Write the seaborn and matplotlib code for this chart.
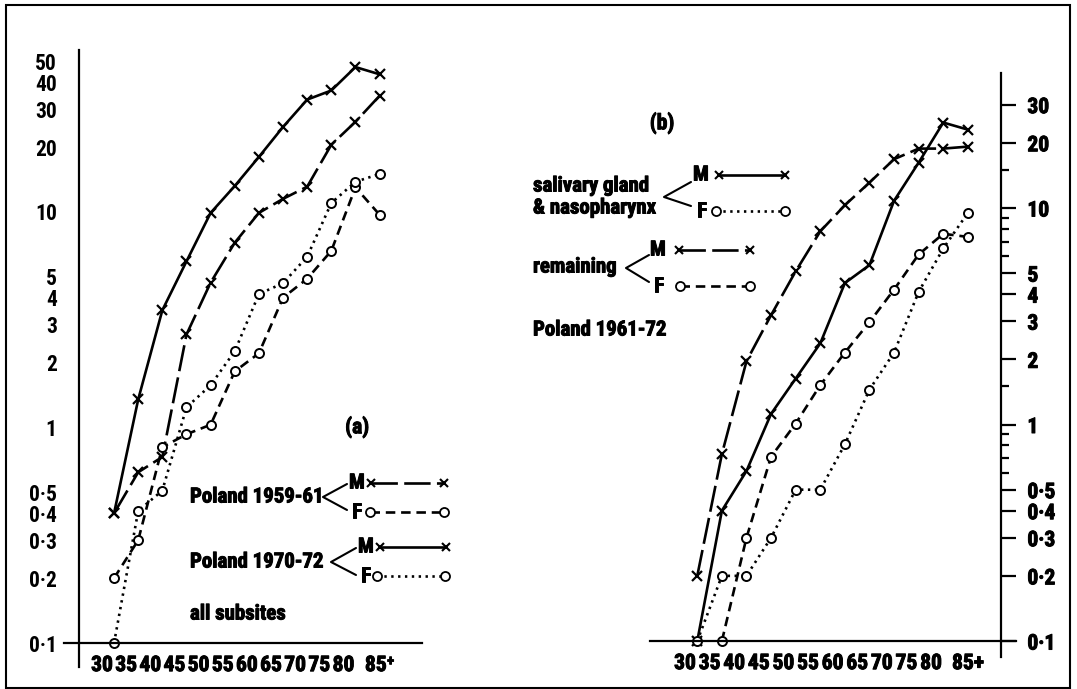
import matplotlib

matplotlib.use("Agg")
import matplotlib.patheffects as pe
import matplotlib.pyplot as plt
import numpy as np
import pandas as pd
import seaborn as sns
from matplotlib import font_manager
from matplotlib.lines import Line2D
from matplotlib.patches import Rectangle
from matplotlib.ticker import NullFormatter

# age groups 30-34 ... 80-84, 85+ (plotted at group mid-points)
age_mid = [32.5, 37.5, 42.5, 47.5, 52.5, 57.5, 62.5, 67.5, 72.5, 77.5, 82.5, 87.5]
age_ticks = [30, 35, 40, 45, 50, 55, 60, 65, 70, 75, 80, 87.5]
age_labels_a = ["30", "35", "40", "45", "50", "55", "60", "65", "70", "75", "80", "85\u207a"]
age_labels_b = ["30", "35", "40", "45", "50", "55", "60", "65", "70", "75", "80", "85+"]

# (a) all subsites
m_1959 = [0.4, 0.62, 0.73, 2.7, 4.7, 7.2, 9.9, 11.5, 13.1, 20.5, 26.2, 34.6]
f_1959 = [0.2, 0.30, 0.81, 0.93, 1.03, 1.82, 2.21, 4.0, 4.9, 6.6, 13.0, 9.7]
m_1970 = [0.4, 1.35, 3.5, 5.9, 9.9, 13.2, 18.0, 24.8, 33.2, 36.6, 47.0, 43.5]
f_1970 = [0.1, 0.41, 0.51, 1.24, 1.57, 2.26, 4.16, 4.67, 6.2, 11.0, 13.8, 15.0]

# (b) Poland 1961-72
sal_m = [0.1, 0.40, 0.61, 1.12, 1.63, 2.37, 4.5, 5.45, 10.8, 16.2, 24.8, 23.0]
sal_f = [0.1, 0.2, 0.2, 0.30, 0.50, 0.50, 0.81, 1.45, 2.15, 4.1, 6.5, 9.5]
rem_m = [0.2, 0.73, 1.96, 3.2, 5.1, 7.8, 10.3, 13.1, 16.8, 18.8, 18.8, 19.2]
rem_f = [np.nan, 0.1, 0.3, 0.71, 1.01, 1.52, 2.15, 2.97, 4.2, 6.1, 7.6, 7.35]

major_a = [0.1, 0.2, 0.3, 0.4, 0.5, 1, 2, 3, 4, 5, 10, 20, 30, 40, 50]
major_b = [0.1, 0.2, 0.3, 0.4, 0.5, 1, 2, 3, 4, 5, 10, 20, 30]
minor_y = [0.6, 0.7, 0.8, 0.9, 1.5, 6, 7, 8, 9, 15]


def ylab(v):
    return f"{v:g}".replace(".", "\u00b7")


# pick a narrow bold sans if one is installed, like the original lettering
fonts = font_manager.fontManager.ttflist
names = {f.name for f in fonts}
STRETCH = "normal"
SCALE = 1.0
for cand in ["Liberation Sans Narrow", "Roboto Condensed", "Open Sans Condensed", "Noto Sans Condensed"]:
    if cand in names:
        FAMILY = cand
        break
else:
    FAMILY = "DejaVu Sans"
    if any(f.name == "DejaVu Sans" and f.stretch == "condensed" for f in fonts):
        STRETCH = "condensed"
        SCALE = 0.85
    else:
        SCALE = 0.74

sns.set_style("white")
plt.rcParams["font.family"] = [FAMILY, "DejaVu Sans"]
plt.rcParams["font.stretch"] = STRETCH
plt.rcParams["font.weight"] = "bold"
for key_ in ["text.color", "axes.labelcolor", "xtick.color", "ytick.color"]:
    plt.rcParams[key_] = "black"

W, H = 1077, 689
fig = plt.figure(figsize=(W / 100, H / 100), dpi=100)


def fx(x):
    return x / W


def fy(y):
    return 1 - y / H


LONG = (0, (10, 2.4))
SHORT = (0, (3.6, 2.2))
DOT = (0, (0.9, 1.7))
LW = 1.9
TICK_FS = 15.5 * SCALE
TEXT_FS = 15 * SCALE
# the printed lettering is heavy; thicken the glyphs a little
HEAVY = [pe.withStroke(linewidth=0.7, foreground="black")]


def series(ax, values, ls, marker):
    df = pd.DataFrame({"age": age_mid, "rate": values}).dropna()
    kw = dict(markersize=6.5, markeredgewidth=1.6) if marker == "x" else dict(markersize=6.5, markeredgewidth=1.4)
    sns.lineplot(data=df, x="age", y="rate", ax=ax, color="black", lw=LW, linestyle=ls,
                 marker=marker, markeredgecolor="black", markerfacecolor="white",
                 clip_on=False, **kw)


def style_axes(ax, majors, side):
    ax.set_yscale("log")
    ax.set_yticks(majors)
    ax.set_yticklabels([ylab(v) for v in majors])
    ax.set_yticks(minor_y, minor=True)
    ax.yaxis.set_minor_formatter(NullFormatter())
    ax.set_xticks(age_ticks)
    ax.spines["top"].set_visible(False)
    ax.spines["bottom"].set_position(("data", 0.1))
    for s in ax.spines.values():
        s.set_linewidth(1.6)
        s.set_color("black")
    ax.tick_params(axis="x", length=7, width=1.6, pad=1, labelsize=TICK_FS)
    pad = 5 if side == "left" else 8
    ax.tick_params(axis="y", which="major", length=11, width=1.6, pad=pad, labelsize=TICK_FS)
    ax.tick_params(axis="y", which="minor", length=6, width=1.6)
    ax.set_xlabel("")
    ax.set_ylabel("")
    for t in ax.get_xticklabels() + ax.get_yticklabels():
        t.set_path_effects(HEAVY)


# ---- panel (a)
ax1 = fig.add_axes([64 / W, (H - 667) / H, 358 / W, 617 / H])
ax1.set_yscale("log")
series(ax1, m_1959, LONG, "x")
series(ax1, f_1959, SHORT, "o")
series(ax1, m_1970, "-", "x")
series(ax1, f_1970, DOT, "o")
ax1.set_xticks(age_ticks)
ax1.set_xticklabels(age_labels_a)
style_axes(ax1, major_a, "left")
ax1.set_xlim(22.13, 96.28)
ax1.set_ylim(0.0774, 56.4)
ax1.spines["right"].set_visible(False)
ax1.spines["left"].set_position(("data", 25.24))

# ---- panel (b)
ax2 = fig.add_axes([650 / W, (H - 657) / H, 366 / W, 584 / H])
ax2.set_yscale("log")
series(ax2, sal_m, "-", "x")
series(ax2, sal_f, DOT, "o")
series(ax2, rem_m, LONG, "x")
series(ax2, rem_f, SHORT, "o")
ax2.set_xticks(age_ticks)
ax2.set_xticklabels(age_labels_b)
style_axes(ax2, major_b, "right")
ax2.set_xlim(22.89, 97.28)
ax2.set_ylim(0.0844, 42.0)
ax2.spines["left"].set_visible(False)
ax2.yaxis.tick_right()
ax2.spines["right"].set_position(("data", 94.23))
ax2.tick_params(axis="y", which="both", left=False, right=True, labelleft=False, labelright=True)
for t in ax2.get_yticklabels():
    t.set_path_effects(HEAVY)


# ---- hand-drawn keys
def label(x, y, s, size=TEXT_FS, ha="left"):
    fig.text(fx(x), fy(y), s, ha=ha, va="center", fontsize=size, fontweight="bold",
             path_effects=HEAVY)


def bracket(x0, y0, x1, ytop, ybot):
    fig.add_artist(Line2D([fx(x1), fx(x0), fx(x1)], [fy(ytop), fy(y0), fy(ybot)],
                          transform=fig.transFigure, color="black", lw=1.5))


def key(x0, x1, y, ls, marker):
    kw = dict(markersize=6, markeredgewidth=1.5) if marker == "x" else dict(markersize=6.5, markeredgewidth=1.3)
    fig.add_artist(Line2D([fx(x0), fx(x1)], [fy(y), fy(y)], transform=fig.transFigure,
                          color="black", lw=LW, linestyle=ls, marker=marker,
                          markeredgecolor="black", markerfacecolor="white", **kw))


label(357, 427, "(a)", size=TICK_FS, ha="center")
label(190, 497, "Poland 1959-61")
bracket(323, 497, 347, 484, 510)
label(349, 483, "M")
label(352, 512, "F")
key(371, 444, 483, LONG, "x")
key(370, 444, 512, SHORT, "o")
label(190, 562, "Poland 1970-72")
bracket(331, 562, 356, 548, 575)
label(358, 547, "M")
label(361, 576, "F")
key(380, 446, 547, "-", "x")
key(377, 445, 576, DOT, "o")
label(190, 614, "all subsites")

label(662, 123, "(b)", size=TICK_FS, ha="center")
label(533, 186, "salivary gland")
label(533, 208, "& nasopharynx")
bracket(664, 197, 691, 182, 206)
label(693, 175, "M")
label(697, 211, "F")
key(719, 785, 175, "-", "x")
key(716, 785, 211, DOT, "o")
label(533, 267, "remaining")
bracket(626, 268, 649, 255, 282)
label(650, 250, "M")
label(654, 286, "F")
key(679, 750, 250, LONG, "x")
key(680, 750, 286, SHORT, "o")
label(533, 330, "Poland 1961-72")

# frame around the whole figure
fig.add_artist(Rectangle((fx(6), fy(688)), fx(1070) - fx(6), fy(5) - fy(688),
                         transform=fig.transFigure, fill=False, lw=1.5, ec="black"))

fig.savefig("out.png", dpi=100)
plt.close(fig)
